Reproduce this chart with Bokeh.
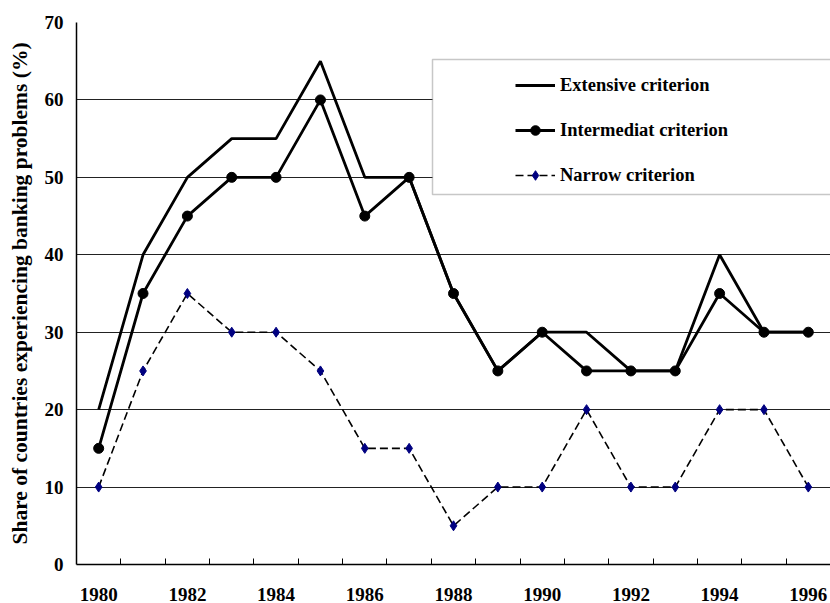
from bokeh.plotting import figure
from bokeh.models import FixedTicker, Legend, LegendItem, BoxAnnotation, Range1d
from bokeh.embed import file_html
from bokeh.resources import INLINE

years = [1980, 1981, 1982, 1983, 1984, 1985, 1986, 1987, 1988,
         1989, 1990, 1991, 1992, 1993, 1994, 1995, 1996]
extensive = [20, 40, 50, 55, 55, 65, 50, 50, 35, 25, 30, 30, 25, 25, 40, 30, 30]
intermediate = [15, 35, 45, 50, 50, 60, 45, 50, 35, 25, 30, 25, 25, 25, 35, 30, 30]
narrow = [10, 25, 35, 30, 30, 25, 15, 15, 5, 10, 10, 20, 10, 10, 20, 20, 10]
x_tick_years = [1980, 1982, 1984, 1986, 1988, 1990, 1992, 1994, 1996]
y_ticks = [0, 10, 20, 30, 40, 50, 60, 70]
series_names = ["Extensive criterion", "Intermediat criterion", "Narrow criterion"]

FONT = "Liberation Serif"

p = figure(width=830, height=603, output_backend="svg", toolbar_location=None,
           x_range=Range1d(years[0] - 0.5, years[-1] + 0.5),
           y_range=Range1d(0, 70),
           min_border_left=76, min_border_right=0, min_border_top=22,
           min_border_bottom=39)
p.outline_line_color = None
p.background_fill_color = "white"

# lines
r_ext = p.line(years, extensive, line_color="black", line_width=2.8)
r_int = p.line(years, intermediate, line_color="black", line_width=2.8)
r_int_m = p.scatter(years, intermediate, marker="circle", size=10,
                    fill_color="black", line_color="black")
r_nar = p.line(years, narrow, line_color="black", line_width=1.6, line_dash="8 4")
r_nar_m = p.scatter(years, narrow, marker="diamond", size=10,
                    fill_color="#000080", line_color="#000080")

# axes
p.xaxis.ticker = FixedTicker(ticks=x_tick_years,
                             minor_ticks=[y + 0.5 for y in years[:-1]])
p.xaxis.major_tick_line_color = None
p.xaxis.major_tick_out = 0
p.xaxis.major_tick_in = 0
p.xaxis.minor_tick_line_color = "black"
p.xaxis.minor_tick_in = 6
p.xaxis.minor_tick_out = 0
p.xaxis.axis_line_color = "black"
p.xaxis.axis_line_width = 1.5
p.xaxis.major_label_text_font = FONT
p.xaxis.major_label_text_font_style = "bold"
p.xaxis.major_label_text_font_size = "19px"
p.xaxis.major_label_text_color = "black"
p.xaxis.major_label_standoff = 23

p.yaxis.ticker = FixedTicker(ticks=y_ticks)
p.yaxis.major_tick_line_color = None
p.yaxis.major_tick_out = 0
p.yaxis.major_tick_in = 0
p.yaxis.minor_tick_line_color = None
p.yaxis.axis_line_color = "black"
p.yaxis.axis_line_width = 1.5
p.yaxis.major_label_text_font = FONT
p.yaxis.major_label_text_font_style = "bold"
p.yaxis.major_label_text_font_size = "19px"
p.yaxis.major_label_text_color = "black"
p.yaxis.major_label_standoff = 13
p.yaxis.axis_label = "Share of countries experiencing banking problems (%)"
p.yaxis.axis_label_text_font = FONT
p.yaxis.axis_label_text_font_style = "bold"
p.yaxis.axis_label_text_font_size = "21.5px"
p.yaxis.axis_label_text_color = "black"
p.yaxis.axis_label_standoff = 10

p.xgrid.grid_line_color = None
p.ygrid.grid_line_color = "#222222"
p.ygrid.grid_line_width = 1

# legend box
box = BoxAnnotation(left=356, right=760, top=505, bottom=370,
                    left_units="screen", right_units="screen",
                    top_units="screen", bottom_units="screen",
                    fill_color="white", fill_alpha=1.0,
                    line_color="#444444", line_width=1.5)
p.add_layout(box)

legend = Legend(items=[
    LegendItem(label=series_names[0], renderers=[r_ext]),
    LegendItem(label=series_names[1], renderers=[r_int, r_int_m]),
    LegendItem(label=series_names[2], renderers=[r_nar, r_nar_m]),
], location=(439, 377))
legend.padding = 0
legend.border_line_color = None
legend.background_fill_alpha = 0
legend.glyph_width = 40
legend.glyph_height = 24
legend.label_height = 24
legend.spacing = 21
legend.label_standoff = 5
legend.label_text_font = FONT
legend.label_text_font_style = "bold"
legend.label_text_font_size = "18.5px"
legend.label_text_color = "black"
legend.margin = 0
p.add_layout(legend)

open("out.html", "w").write(file_html(p, INLINE))
